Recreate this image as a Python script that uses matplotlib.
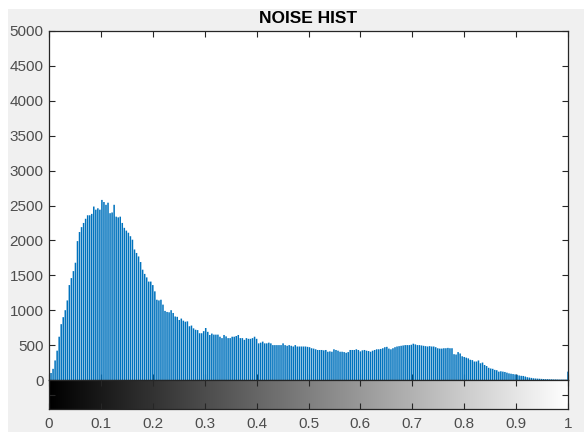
import numpy as np
import matplotlib
matplotlib.use("Agg")
import matplotlib.pyplot as plt
from matplotlib.patches import Rectangle

# histogram counts (256 bins over 0..1)
counts = [
    30, 100, 160, 280, 420, 620, 800, 900, 1000, 1140, 1360, 1460, 1560, 1680, 1990, 2120,
    2190, 2250, 2310, 2360, 2360, 2380, 2485, 2440, 2460, 2440, 2580, 2550, 2510, 2540, 2390, 2400,
    2510, 2340, 2330, 2340, 2250, 2180, 2140, 2110, 2060, 2010, 1870, 1820, 1770, 1690, 1580, 1520,
    1470, 1410, 1410, 1360, 1270, 1150, 1140, 1150, 1080, 990, 975, 970, 1000, 960, 910, 905,
    860, 880, 850, 835, 840, 770, 780, 740, 720, 715, 670, 670, 700, 745, 690, 645,
    665, 650, 650, 650, 620, 600, 645, 625, 600, 600, 620, 620, 630, 645, 600, 600,
    575, 600, 590, 590, 600, 620, 590, 525, 535, 550, 525, 525, 535, 525, 500, 500,
    500, 500, 500, 525, 500, 490, 500, 490, 480, 500, 480, 480, 480, 480, 480, 475,
    470, 455, 450, 440, 430, 430, 430, 425, 430, 405, 410, 405, 440, 430, 420, 405,
    405, 400, 390, 400, 430, 430, 430, 440, 430, 410, 425, 430, 420, 415, 405, 420,
    430, 440, 440, 445, 455, 470, 475, 450, 440, 455, 470, 480, 485, 490, 495, 500,
    500, 500, 505, 520, 510, 500, 500, 495, 490, 485, 480, 485, 480, 480, 470, 455,
    450, 450, 455, 455, 460, 455, 455, 370, 365, 400, 380, 340, 330, 320, 310, 290,
    285, 265, 265, 280, 240, 250, 215, 200, 175, 165, 160, 145, 140, 120, 125, 120,
    115, 105, 95, 90, 85, 80, 75, 65, 60, 58, 50, 40, 35, 30, 25, 22,
    20, 18, 16, 14, 12, 12, 10, 10, 8, 8, 7, 6, 6, 5, 5, 120,
]
bin_centers = np.linspace(0, 1, len(counts))

y_ticks = list(range(0, 5001, 500))
x_ticks = [round(0.1 * k, 1) for k in range(11)]
x_labels = ["0", "0.1", "0.2", "0.3", "0.4", "0.5", "0.6", "0.7", "0.8", "0.9", "1"]

plt.rcParams["font.family"] = ["Liberation Sans", "DejaVu Sans"]

fig = plt.figure(figsize=(5.84, 4.32), dpi=100)
fig.patch.set_facecolor("white")
# grey MATLAB figure window background, white margin at top/left
fig.patches.append(Rectangle((8 / 584, 0), 1, 1 - 9 / 432, transform=fig.transFigure,
                             facecolor="#f0f0f0", edgecolor="none", zorder=-10))

spine_col = "#262626"
label_col = "#4d4d4d"
tick_size = 11

ax = fig.add_axes([49 / 584, 52 / 432, 519 / 584, 349 / 432])
ax.vlines(bin_centers, 0, counts, color="#0072BD", lw=1.1, snap=False)
ax.set_xlim(0, 1)
ax.set_ylim(0, 5000)
ax.set_yticks(y_ticks)
ax.set_xticks(x_ticks)
ax.set_xticklabels([])
ax.tick_params(direction="in", length=4, top=True, right=True, colors=spine_col,
               labelcolor=label_col, labelsize=tick_size, width=0.8, pad=4)
for s in ax.spines.values():
    s.set_color(spine_col)
    s.set_linewidth(0.9)
ax.set_title("NOISE HIST", fontsize=12.5, fontweight="bold", pad=6)

# grey ramp under the histogram
cax = fig.add_axes([49 / 584, 23 / 432, 519 / 584, 29 / 432])
ramp = np.linspace(0, 1, 256).reshape(1, -1)
cax.imshow(ramp, cmap="gray", aspect="auto", extent=[0, 1, 0, 1], vmin=0, vmax=1)
cax.set_xlim(0, 1)
cax.set_ylim(0, 1)
cax.set_xticks(x_ticks)
cax.set_xticklabels(x_labels)
cax.set_yticks([0.5])
cax.set_yticklabels([])
cax.tick_params(direction="in", length=4, top=True, right=True, colors=spine_col,
                labelcolor=label_col, labelsize=tick_size, width=0.8, pad=6)
for s in cax.spines.values():
    s.set_color(spine_col)
    s.set_linewidth(0.9)

fig.savefig("out.png", dpi=100, facecolor=fig.get_facecolor())
